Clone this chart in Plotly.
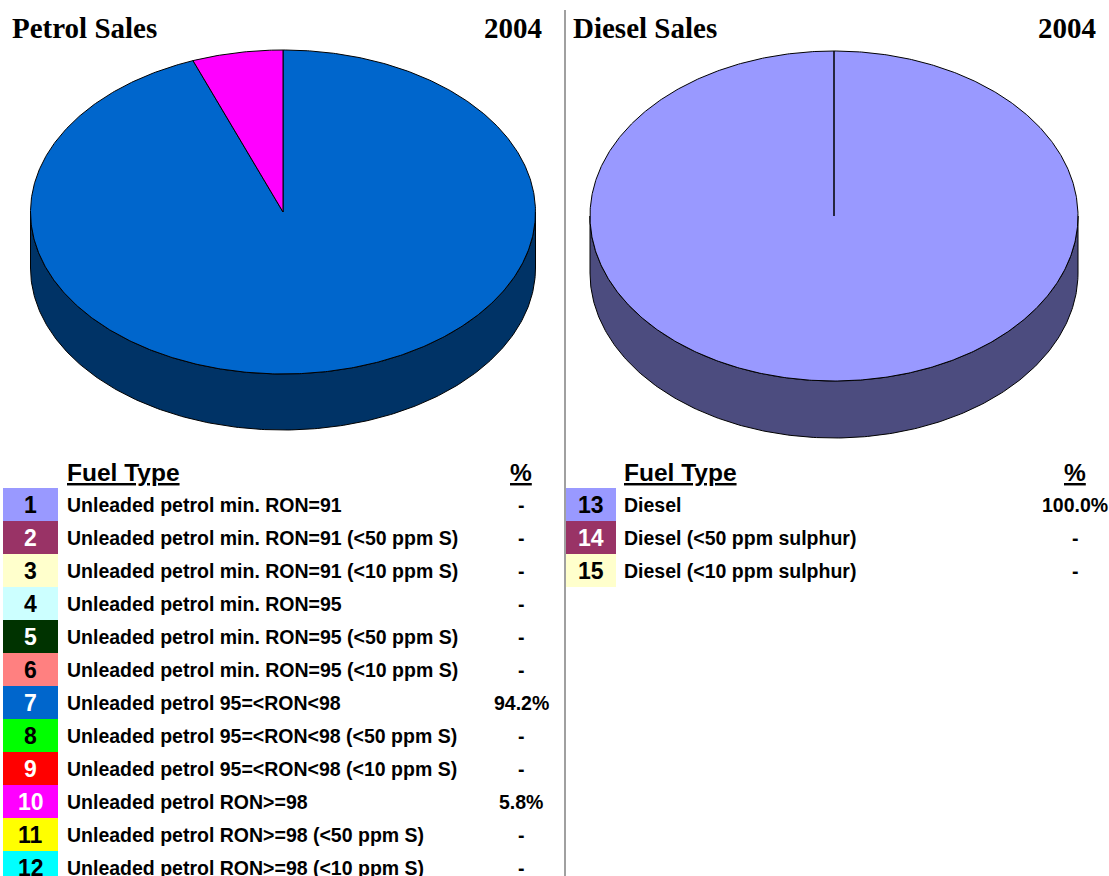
import numpy as np
import plotly.graph_objects as go

# ---- data -----------------------------------------------------------------
year = "2004"

petrol_codes = [1, 2, 3, 4, 5, 6, 7, 8, 9, 10, 11, 12]
petrol_types = [
    "Unleaded petrol min. RON=91",
    "Unleaded petrol min. RON=91 (<50 ppm S)",
    "Unleaded petrol min. RON=91 (<10 ppm S)",
    "Unleaded petrol min. RON=95",
    "Unleaded petrol min. RON=95 (<50 ppm S)",
    "Unleaded petrol min. RON=95 (<10 ppm S)",
    "Unleaded petrol 95=<RON<98",
    "Unleaded petrol 95=<RON<98 (<50 ppm S)",
    "Unleaded petrol 95=<RON<98 (<10 ppm S)",
    "Unleaded petrol RON>=98",
    "Unleaded petrol RON>=98 (<50 ppm S)",
    "Unleaded petrol RON>=98 (<10 ppm S)",
]
petrol_share = [0, 0, 0, 0, 0, 0, 94.2, 0, 0, 5.8, 0, 0]
petrol_colors = ["#9999FF", "#993366", "#FFFFCC", "#CCFFFF", "#003300", "#FF8080",
                 "#0066CC", "#00FF00", "#FF0000", "#FF00FF", "#FFFF00", "#00FFFF"]

diesel_codes = [13, 14, 15]
diesel_types = [
    "Diesel",
    "Diesel (<50 ppm sulphur)",
    "Diesel (<10 ppm sulphur)",
]
diesel_share = [100.0, 0, 0]
diesel_colors = ["#9999FF", "#993366", "#FFFFCC"]

# ---- page geometry (pixel space) --------------------------------------------
W, H = 1109, 876
SERIF = "Liberation Serif, Times New Roman, serif"
SANS = "Liberation Sans, Arial, sans-serif"

fig = go.Figure()
shapes = []
annotations = []


def darken(hex_color, f=0.5):
    h = hex_color.lstrip("#")
    r, g, b = (int(h[i:i + 2], 16) for i in (0, 2, 4))
    return "#%02X%02X%02X" % (int(r * f), int(g * f), int(b * f))


def text_color(hex_color):
    h = hex_color.lstrip("#")
    r, g, b = (int(h[i:i + 2], 16) for i in (0, 2, 4))
    return "black" if 0.299 * r + 0.587 * g + 0.114 * b > 128 else "white"


def pie3d(cx, cy, rx, ry, depth, shares, colors):
    """Tilted pie with a visible rim; slices run clockwise from 12 o'clock."""
    total = float(sum(shares))
    slices = []
    start = 0.0
    for s, c in zip(shares, colors):
        if s <= 0:
            continue
        end = start + s / total * 360.0
        slices.append((start, end, c))
        start = end

    # front rim (only the half facing the viewer, 90..270 deg)
    for a0, a1, c in slices:
        lo, hi = max(a0, 90.0), min(a1, 270.0)
        if hi <= lo:
            continue
        t = np.radians(np.linspace(lo, hi, 240))
        x = cx + rx * np.sin(t)
        y = cy - ry * np.cos(t)
        xs = np.concatenate([x, x[::-1], x[:1]])
        ys = np.concatenate([y, (y + depth)[::-1], y[:1]])
        fig.add_trace(go.Scatter(x=xs, y=ys, mode="lines", fill="toself",
                                 fillcolor=darken(c), line=dict(color="black", width=1),
                                 hoverinfo="skip", showlegend=False))

    # top faces
    for a0, a1, c in slices:
        n = max(int((a1 - a0) * 2), 8)
        t = np.radians(np.linspace(a0, a1, n))
        xs = np.concatenate([[cx], cx + rx * np.sin(t), [cx]])
        ys = np.concatenate([[cy], cy - ry * np.cos(t), [cy]])
        fig.add_trace(go.Scatter(x=xs, y=ys, mode="lines", fill="toself",
                                 fillcolor=c, line=dict(color="black", width=1),
                                 hoverinfo="skip", showlegend=False))


def fmt_share(v):
    return "-" if v <= 0 else f"{v:.1f}%"


def table(codes, types, shares, colors, box_x0, box_x1, label_x, pct_x, top):
    row_h = 33
    annotations.append(dict(x=label_x, y=top - 16, text="<u>Fuel Type</u>",
                            xanchor="left", yanchor="middle",
                            font=dict(family=SANS, size=24.5, color="black", weight="bold")))
    annotations.append(dict(x=pct_x, y=top - 16, text="<u>%</u>",
                            xanchor="center", yanchor="middle",
                            font=dict(family=SANS, size=24.5, color="black", weight="bold")))
    for i, (code, name, val, col) in enumerate(zip(codes, types, shares, colors)):
        y0 = top + i * row_h
        yc = y0 + row_h / 2
        shapes.append(dict(type="rect", xref="x", yref="y", x0=box_x0, x1=box_x1,
                           y0=y0, y1=y0 + row_h, fillcolor=col, line=dict(width=0),
                           layer="below"))
        annotations.append(dict(x=(box_x0 + box_x1) / 2, y=yc, text=str(code),
                                xanchor="center", yanchor="middle",
                                font=dict(family=SANS, size=23, color=text_color(col),
                                          weight="bold")))
        annotations.append(dict(x=label_x, y=yc, text=name,
                                xanchor="left", yanchor="middle",
                                font=dict(family=SANS, size=19.5, color="black", weight="bold")))
        annotations.append(dict(x=pct_x, y=yc, text=fmt_share(val),
                                xanchor="center", yanchor="middle",
                                font=dict(family=SANS, size=19.5, color="black", weight="bold")))


# ---- pies -------------------------------------------------------------------
pie3d(283, 212, 252.5, 162, 56, petrol_share, petrol_colors)
pie3d(834, 216, 244, 165, 57, diesel_share, diesel_colors)

# ---- titles -----------------------------------------------------------------
title_font = dict(family=SERIF, size=29, color="black", weight="bold")
annotations += [
    dict(x=10, y=28, text="Petrol Sales", xanchor="left", yanchor="middle", font=title_font),
    dict(x=544, y=28, text=year, xanchor="right", yanchor="middle", font=title_font),
    dict(x=571, y=28, text="Diesel Sales", xanchor="left", yanchor="middle", font=title_font),
    dict(x=1098, y=28, text=year, xanchor="right", yanchor="middle", font=title_font),
]

# ---- tables -----------------------------------------------------------------
table(petrol_codes, petrol_types, petrol_share, petrol_colors, 3, 58, 65, 521, 488)
table(diesel_codes, diesel_types, diesel_share, diesel_colors, 566, 616, 622, 1075, 488)

# divider between the two panels
shapes.append(dict(type="line", xref="x", yref="y", x0=565, x1=565, y0=10, y1=H,
                   line=dict(color="#A0A0A0", width=2)))

for a in annotations:
    a.setdefault("xref", "x")
    a.setdefault("yref", "y")
    a["showarrow"] = False

fig.update_layout(
    width=W, height=H, autosize=False,
    margin=dict(l=0, r=0, t=0, b=0),
    paper_bgcolor="white", plot_bgcolor="white",
    xaxis=dict(range=[0, W], visible=False, fixedrange=True),
    yaxis=dict(range=[H, 0], visible=False, fixedrange=True),
    shapes=shapes, annotations=annotations,
    showlegend=False,
)

fig.write_html("out.html")
